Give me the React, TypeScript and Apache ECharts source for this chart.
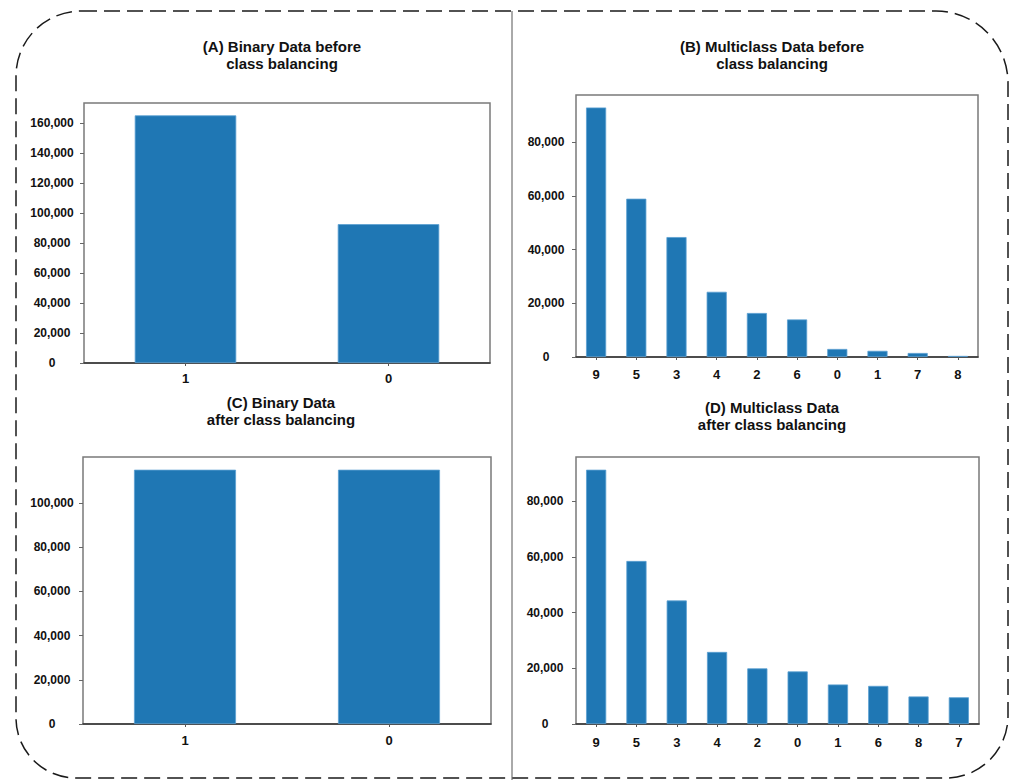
import React, { useEffect, useRef } from 'react';
import * as echarts from 'echarts';

// Class counts per label, ordered as on each x axis
const binaryCategories = ['1', '0'];
const binaryBefore = [165300, 92700];
const binaryAfter = [115000, 115000];

const multiBeforeCategories = ['9', '5', '3', '4', '2', '6', '0', '1', '7', '8'];
const multiBefore = [93000, 59000, 44700, 24300, 16400, 14000, 3000, 2300, 1500, 400];

const multiAfterCategories = ['9', '5', '3', '4', '2', '0', '1', '6', '8', '7'];
const multiAfter = [91400, 58600, 44400, 25900, 20000, 18900, 14200, 13700, 9900, 9600];

// Tick values shown on each y axis
const ticksA = [0, 20000, 40000, 60000, 80000, 100000, 120000, 140000, 160000];
const ticksB = [0, 20000, 40000, 60000, 80000];
const ticksC = [0, 20000, 40000, 60000, 80000, 100000];
const ticksD = [0, 20000, 40000, 60000, 80000];

const titleA = '(A) Binary Data before\nclass balancing';
const titleB = '(B) Multiclass Data before\nclass balancing';
const titleC = '(C) Binary Data\nafter class balancing';
const titleD = '(D) Multiclass Data\nafter class balancing';

const FONT = '"Liberation Sans", Arial, Helvetica, sans-serif';
const BAR = '#1f77b4';

const panels = [
  { cats: binaryCategories, vals: binaryBefore, ticks: ticksA, grid: { left: 84, top: 103, width: 406, height: 260 }, labelMargin: 32, xMargin: 9 },
  { cats: multiBeforeCategories, vals: multiBefore, ticks: ticksB, grid: { left: 576, top: 95, width: 402, height: 262 }, labelMargin: 30, xMargin: 11 },
  { cats: binaryCategories, vals: binaryAfter, ticks: ticksC, grid: { left: 83, top: 457, width: 408, height: 267 }, labelMargin: 31, xMargin: 10 },
  { cats: multiAfterCategories, vals: multiAfter, ticks: ticksD, grid: { left: 576, top: 457, width: 403, height: 267 }, labelMargin: 31, xMargin: 12 },
];

const titles = [
  { text: titleA, x: 282, y: 38 },
  { text: titleB, x: 772, y: 38 },
  { text: titleC, x: 281, y: 394 },
  { text: titleD, x: 772, y: 399 },
];

const fmt = (v: number) => v.toLocaleString('en-US');

export default function App() {
  const ref = useRef<HTMLDivElement>(null);

  useEffect(() => {
    if (!ref.current) return;
    const chart = echarts.init(ref.current, undefined, { renderer: 'svg' });

    const grid = panels.map((p) => ({
      ...p.grid,
      show: true,
      borderColor: '#7a7a7a',
      borderWidth: 1.5,
      backgroundColor: 'transparent',
      containLabel: false,
    }));

    const xAxis = panels.map((p, i) => ({
      type: 'category',
      gridIndex: i,
      data: p.cats,
      axisLine: { show: true, lineStyle: { color: '#333', width: 1.5 } },
      axisTick: { show: true, alignWithLabel: true, length: 3, lineStyle: { color: '#555' } },
      axisLabel: { margin: p.xMargin, fontSize: 13, fontWeight: 'bold', color: '#111', fontFamily: FONT },
      splitLine: { show: false },
    }));

    const yAxis = panels.map((p, i) => ({
      type: 'value',
      gridIndex: i,
      min: 0,
      max: Math.max(...p.vals) * 1.05,
      axisLine: { show: false },
      axisTick: { show: true, length: 4, customValues: p.ticks, lineStyle: { color: '#666' } },
      axisLabel: {
        customValues: p.ticks,
        formatter: (v: number) => fmt(v),
        align: 'center',
        margin: p.labelMargin,
        fontSize: 12,
        fontWeight: 'bold',
        color: '#111',
        fontFamily: FONT,
      },
      splitLine: { show: false },
    }));

    const series = panels.map((p, i) => ({
      type: 'bar',
      xAxisIndex: i,
      yAxisIndex: i,
      data: p.vals,
      barWidth: '50%',
      itemStyle: { color: BAR, borderColor: '#5b9fd2', borderWidth: 0.8 },
      silent: true,
    }));

    const graphic: any[] = [
      {
        type: 'rect',
        silent: true,
        z: 0,
        shape: { x: 16, y: 11, width: 992, height: 767, r: [65, 72, 62, 60] },
        style: { fill: 'transparent', stroke: '#1a1a1a', lineWidth: 1.5, lineDash: [16, 7] },
      },
      {
        type: 'line',
        silent: true,
        shape: { x1: 512, y1: 11, x2: 512, y2: 780 },
        style: { stroke: '#555', lineWidth: 1 },
      },
      ...titles.map((t) => ({
        type: 'text',
        silent: true,
        x: t.x,
        y: t.y,
        style: {
          text: t.text,
          align: 'center',
          verticalAlign: 'top',
          fontSize: 15,
          fontWeight: 'bold',
          lineHeight: 17,
          fontFamily: FONT,
          fill: '#111',
        },
      })),
    ];

    chart.setOption({
      animation: false,
      backgroundColor: '#fff',
      grid,
      xAxis,
      yAxis,
      series,
      graphic,
    });

    return () => chart.dispose();
  }, []);

  return (
    <div
      ref={ref}
      style={{ position: 'fixed', left: 0, top: 0, width: 1011, height: 780, background: '#fff' }}
    />
  );
}
